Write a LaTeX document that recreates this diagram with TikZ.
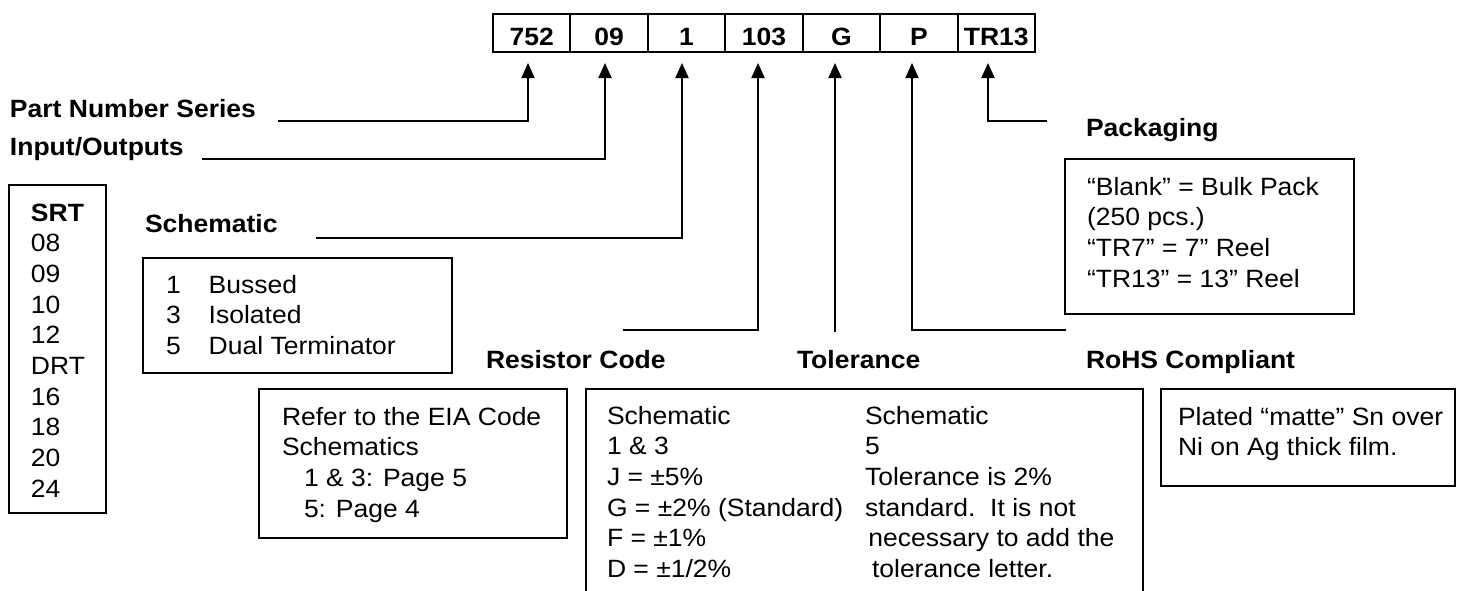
\documentclass[tikz,border=0pt]{standalone}
\usepackage{fontspec}
\setmainfont{Liberation Sans}[FakeStretch=1.06]
\usetikzlibrary{arrows.meta}
\newcommand{\mlines}[1]{\begin{tabular}[t]{@{}l@{}}#1\end{tabular}}
\begin{document}
\begin{tikzpicture}[x=0.5pt,y=-0.5pt,
  every node/.style={font=\fontsize{12.5pt}{15.35pt}\selectfont, inner sep=0pt, outer sep=0pt},
  lbl/.style={anchor=base west, font=\fontsize{12.5pt}{15.35pt}\selectfont\bfseries},
  txt/.style={anchor=base west},
  cell/.style={draw, line width=1pt, minimum width=38.7pt, minimum height=19pt,
    text height=12pt, text depth=0pt, font=\fontsize{12.5pt}{15.35pt}\selectfont\bfseries},
  box/.style={draw, line width=1pt, anchor=north west},
  conn/.style={line width=1pt, -{Triangle[width=6.5pt,length=7.5pt]}},
  wire/.style={line width=1pt}]
\clip (0,0) rectangle (1460,590);
\fill[white] (0,0) rectangle (1460,590);

% code cells
\node[cell] (c1) at (531.7,33) {752};
\node[cell] (c2) at (609.1,33) {09};
\node[cell] (c3) at (686.6,33) {1};
\node[cell] (c4) at (764.0,33) {103};
\node[cell] (c5) at (841.4,33) {G};
\node[cell] (c6) at (918.9,33) {P};
\node[cell] (c7) at (996.3,33) {TR13};

% arrow tips
\coordinate (a1) at (528,63);
\coordinate (a2) at (605,63);
\coordinate (a3) at (682,63);
\coordinate (a4) at (758,63);
\coordinate (a5) at (835,63);
\coordinate (a6) at (912,63);
\coordinate (a7) at (988,63);

% labels
\node[lbl] (pns) at (10,117) {Part Number Series};
\node[lbl] (io) at (10,155) {Input/Outputs};
\node[lbl] (sch) at (145,232) {Schematic};
\node[lbl] (rc) at (486,368) {Resistor Code};
\node[lbl] (tol) at (797,368) {Tolerance};
\node[lbl] (rohs) at (1086,368) {RoHS Compliant};
\node[lbl] (pack) at (1086,136) {Packaging};

% connector start points
\coordinate (s1) at (278,121);
\coordinate (s2) at (202,159);
\coordinate (s3) at (316,238);
\coordinate (s4) at (623,330);
\coordinate (s5) at (835,332);
\coordinate (s6) at (1066,330);
\coordinate (s7) at (1047,121);

\draw[conn] (s1) -| (a1);
\draw[conn] (s2) -| (a2);
\draw[conn] (s3) -| (a3);
\draw[conn] (s4) -| (a4);
\draw[conn] (s5) -- (a5);
\draw[conn] (s6) -| (a6);
\draw[conn] (s7) -| (a7);

% SRT box
\node[box, minimum width=48.5pt, minimum height=164pt] (srtbox) at (9,185) {};
\node[txt] (srt) at (31,221) {\mlines{\textbf{SRT}\\08\\09\\10\\12\\DRT\\16\\18\\20\\24}};

% schematic box
\node[box, minimum width=154.5pt, minimum height=57.5pt] (schbox) at (143,258) {};
\node[txt] (schtxt) at (166,293) {\begin{tabular}[t]{@{}l@{\hspace{14pt}}l@{}}1&Bussed\\3&Isolated\\5&Dual Terminator\end{tabular}};

% EIA box
\node[box, minimum width=154pt, minimum height=74.5pt] (eiabox) at (259,389) {};
\node[txt] (eiatxt) at (282,425) {\mlines{Refer to the EIA Code\\Schematics\\\hspace{11pt}1 \& 3: Page 5\\\hspace{11pt}5: Page 4}};

% tolerance box (open at the bottom edge of the picture)
\node[box, minimum width=278.5pt, minimum height=120pt] (tolbox) at (586,389) {};
\node[txt] (tol1) at (607,424) {\mlines{Schematic\\1 \& 3\\J = ±5\%\\G = ±2\% (Standard)\\F = ±1\%\\D = ±1/2\%}};
\node[txt] (tol2) at (865,424) {\mlines{Schematic\\5\\Tolerance is 2\%\\standard.\ \ It is not\\\hspace{1.7pt}necessary to add the\\\hspace{3.5pt}tolerance letter.}};

% RoHS box
\node[box, minimum width=147pt, minimum height=48.5pt] (rohsbox) at (1161,389) {};
\node[txt] (rohstxt) at (1178,425) {\mlines{Plated “matte” Sn over\\Ni on Ag thick film.}};

% packaging box
\node[box, minimum width=144.5pt, minimum height=77.5pt] (packbox) at (1065,159) {};
\node[txt] (packtxt) at (1087,195) {\mlines{“Blank” = Bulk Pack\\(250 pcs.)\\“TR7” = 7” Reel\\“TR13” = 13” Reel}};
\end{tikzpicture}
\end{document}
